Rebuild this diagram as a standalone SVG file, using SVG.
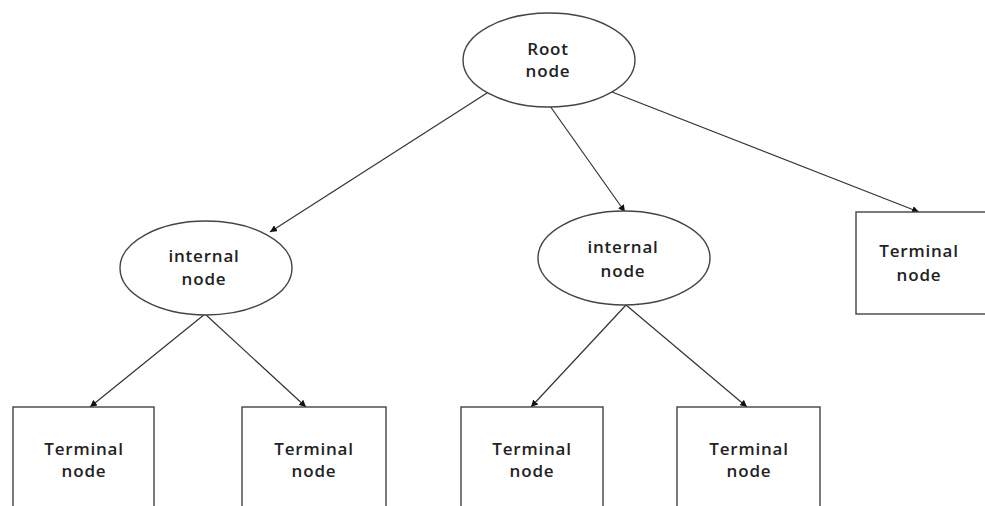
<svg xmlns="http://www.w3.org/2000/svg" width="985" height="506" viewBox="0 0 985 506">
<style>
.shape{fill:#fff;stroke:#444;stroke-width:1.4}
.edge{stroke:#333;stroke-width:1.2;fill:none;marker-end:url(#arr)}
text{font-family:"Open Sans","DejaVu Sans",sans-serif;font-weight:600;font-size:17px;fill:#222;text-anchor:middle;letter-spacing:0.8px}
</style>
<defs>
<marker id="arr" viewBox="0 0 10 10" refX="10" refY="5" markerWidth="7" markerHeight="7" markerUnits="userSpaceOnUse" orient="auto">
<path d="M0,0 L10,5 L0,10 z" fill="#111"/>
</marker>
</defs>
<rect width="985" height="506" fill="#fff"/>
<g id="connectors">
<line class="edge" x1="487" y1="93" x2="270" y2="232"/>
<line class="edge" x1="550" y1="106" x2="625" y2="212"/>
<line class="edge" x1="612" y1="92" x2="919" y2="212"/>
<line class="edge" x1="205" y1="314" x2="90" y2="407"/>
<line class="edge" x1="205" y1="314" x2="306" y2="407"/>
<line class="edge" x1="626" y1="305" x2="531" y2="407"/>
<line class="edge" x1="626" y1="305" x2="747" y2="407"/>
</g>
<g id="root">
<ellipse class="shape" cx="549" cy="60" rx="86" ry="47"/>
<text x="548" y="55">Root</text>
<text x="548" y="77">node</text>
</g>
<g id="internal1">
<ellipse class="shape" cx="206" cy="268" rx="86" ry="47"/>
<text x="204" y="262">internal</text>
<text x="204" y="285">node</text>
</g>
<g id="internal2">
<ellipse class="shape" cx="624" cy="258" rx="86" ry="47"/>
<text x="623" y="253">internal</text>
<text x="623" y="277">node</text>
</g>
<g id="terminal_right">
<rect class="shape" x="856" y="212" width="150" height="102"/>
<text x="919" y="257">Terminal</text>
<text x="919" y="281">node</text>
</g>
<g id="terminal1">
<rect class="shape" x="13" y="407" width="141" height="110"/>
<text x="84" y="455">Terminal</text>
<text x="84" y="477">node</text>
</g>
<g id="terminal2">
<rect class="shape" x="242" y="407" width="144" height="110"/>
<text x="314" y="455">Terminal</text>
<text x="314" y="477">node</text>
</g>
<g id="terminal3">
<rect class="shape" x="461" y="407" width="142" height="110"/>
<text x="532" y="455">Terminal</text>
<text x="532" y="477">node</text>
</g>
<g id="terminal4">
<rect class="shape" x="677" y="407" width="143" height="110"/>
<text x="749" y="455">Terminal</text>
<text x="749" y="477">node</text>
</g>
</svg>
